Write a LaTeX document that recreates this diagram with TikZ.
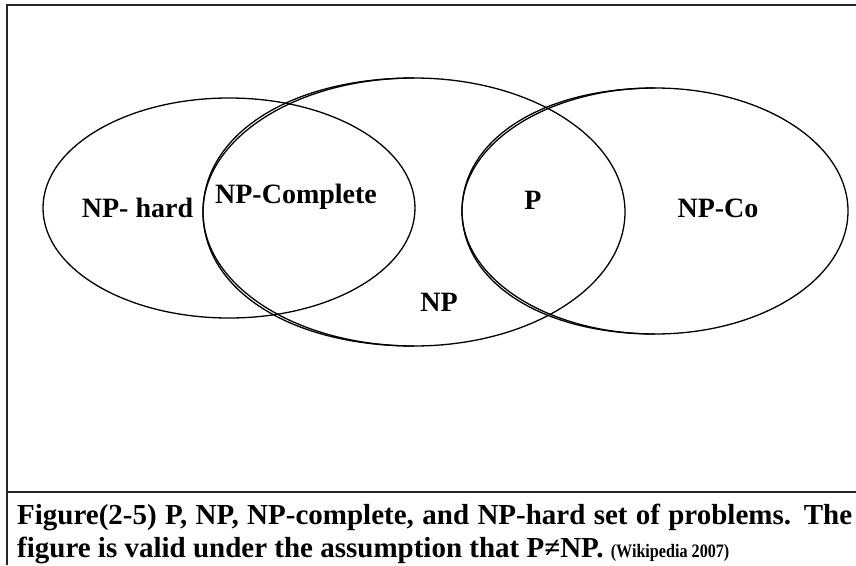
\documentclass[tikz,border=0pt]{standalone}
\usepackage{fontspec}
\setmainfont{Liberation Serif}
\begin{document}
\begin{tikzpicture}[x=1pt,y=-1pt,
  setline/.style={line width=1.3pt, black},
  framerule/.style={line width=2pt, black!85},
  setlabel/.style={font=\fontsize{28}{30}\selectfont\bfseries, inner sep=0pt, anchor=base},
  captionline/.style={font=\fontsize{29}{31}\selectfont\bfseries, inner sep=0pt, anchor=base west}]
  \useasboundingbox (0,0) rectangle (856,565);
  \fill[white] (0,0) rectangle (856,565);

  % frame around figure and caption
  \draw[framerule] (7,565) -- (7,5) -- (860,5);
  \draw[framerule] (7,492) -- (860,492);

  % NP-hard set
  \draw[setline] (229,208) ellipse [x radius=186, y radius=110];
  % NP set, with its slightly offset copy on the left half
  \draw[setline] (414,212) ellipse [x radius=211, y radius=134];
  \draw[setline] (414,78) .. controls (291,78) and (203,134) .. (203,212)
                          .. controls (203,290) and (291,346) .. (414,346);
  % co-NP set, with its slightly offset copy on the left half
  \draw[setline] (655,211) ellipse [x radius=193, y radius=123];
  \draw[setline] (655,88) .. controls (542.5,88) and (462,139.5) .. (462,211)
                          .. controls (462,282.5) and (542.5,334) .. (655,334);

  % set labels
  \node[setlabel] (nphard) at (137.5,217) {NP- hard};
  \node[setlabel] (npc) at (296,203) {NP-Complete};
  \node[setlabel] (p) at (533,209) {P};
  \node[setlabel] (npco) at (718,217) {NP-Co};
  \node[setlabel] (np) at (439,311) {NP};

  % caption: first line set full width, second line ragged
  \node[captionline] (cap1) at (17,524)
    {\makebox[835pt][s]{Figure(2-5) P, NP, NP-complete, and NP-hard set of problems. The}};
  \node[captionline] (cap2) at (17,557)
    {figure is valid under the assumption that P≠NP. \scalebox{0.85}[1]{\fontsize{19}{21}\selectfont(Wikipedia 2007)}};
\end{tikzpicture}
\end{document}
